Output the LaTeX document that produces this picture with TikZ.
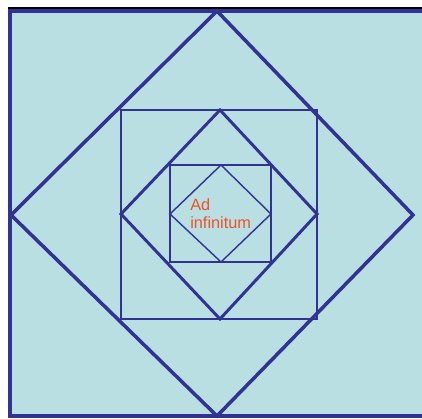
\documentclass[tikz,border=0pt]{standalone}
\usepackage{fontspec}
\setmainfont{Liberation Sans}
\usepackage{xcolor}
\definecolor{paleblue}{RGB}{185,223,227}
\definecolor{navyline}{RGB}{48,50,148}
\definecolor{redtext}{RGB}{240,82,40}

\begin{document}
\begin{tikzpicture}[
    x=0.025cm, y=-0.025cm,
    frame/.style={draw=navyline, line width=2.5pt},
    level/.style={draw=navyline, line width=2.1pt},
    inner/.style={draw=navyline, line width=1.7pt},
    core/.style={draw=navyline, line width=1pt},
    label/.style={text=redtext, font=\fontsize{11.6}{13.5}\selectfont, align=left, inner sep=0pt},
]
    \useasboundingbox (0,0) rectangle (422,419);
    \clip (0,0) rectangle (422,419);
    % outer square, right side runs off the page
    \fill[paleblue] (10,11) rectangle (422,416);
    \draw[frame] (422,11) -- (10,11) -- (10,416) -- (422,416);
    \draw[black, line width=1.4pt] (8,8) -- (422,8);
    % big diamond
    \draw[frame] (217,11) -- (413,215) -- (217,416) -- (11,215) -- cycle;
    % second square and diamond
    \draw[level] (121,110) rectangle (317,319);
    \draw[level] (220,110) -- (317,214) -- (220,319) -- (121,214) -- cycle;
    % third square and diamond
    \draw[inner] (170,165) rectangle (271,262);
    \draw[core] (221,165) -- (271,214) -- (221,262) -- (170,214) -- cycle;
    \node[label, anchor=base west] (adinf) at (190,229) {Ad\\infinitum};
\end{tikzpicture}
\end{document}
